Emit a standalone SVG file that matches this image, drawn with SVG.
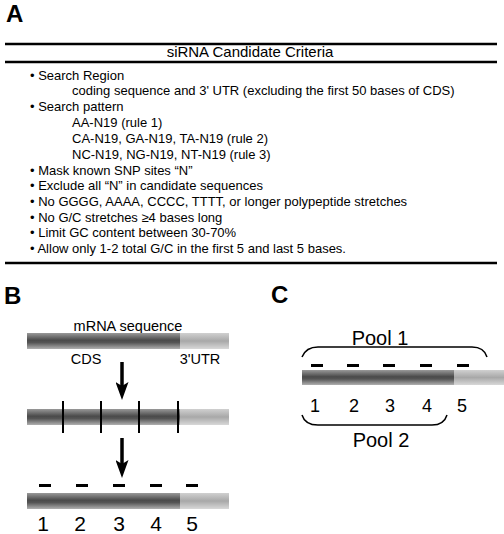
<svg xmlns="http://www.w3.org/2000/svg" width="504" height="534" viewBox="0 0 504 534">
<style>
text{font-family:"Liberation Sans",Arial,sans-serif;fill:#000}
.lbl{font-weight:bold;font-size:24px}
.t{font-size:13px}
.num{font-size:21px;text-anchor:middle}
.numc{font-size:18px;text-anchor:middle}
.rule{stroke:#000;stroke-width:2.5}
.tick{stroke:#000;stroke-width:2}
.dash{fill:#000}
.br{fill:none;stroke:#000;stroke-width:1.5}
.arr{stroke:#000;stroke-width:3.5;fill:none}
</style>
<defs>
<linearGradient id="cds" x1="0" y1="0" x2="0" y2="1">
<stop offset="0" stop-color="#999"/>
<stop offset="0.45" stop-color="#4a4a4a"/>
<stop offset="0.6" stop-color="#555"/>
<stop offset="1" stop-color="#b0b0b0"/>
</linearGradient>
<linearGradient id="utr" x1="0" y1="0" x2="0" y2="1">
<stop offset="0" stop-color="#d0d0d0"/>
<stop offset="0.5" stop-color="#a8a8a8"/>
<stop offset="1" stop-color="#d8d8d8"/>
</linearGradient>
<marker id="ah" viewBox="0 0 18 13" refX="6" refY="6.5" markerWidth="18" markerHeight="13" markerUnits="userSpaceOnUse" orient="auto">
<path d="M0 0 L18 6.5 L0 13 L4 6.5 Z" fill="#000"/>
</marker>
</defs>

<g id="panelA">
<text class="lbl" x="6" y="22">A</text>
<line class="rule" x1="5" y1="44" x2="497" y2="44"/>
<text x="250" y="57" font-size="15" text-anchor="middle">siRNA Candidate Criteria</text>
<line class="rule" x1="5" y1="62" x2="497" y2="62"/>
<g class="t">
<text x="30" y="80">• Search Region</text>
<text x="72" y="95">coding sequence and 3' UTR (excluding the first 50 bases of CDS)</text>
<text x="30" y="111">• Search pattern</text>
<text x="72" y="127">AA-N19 (rule 1)</text>
<text x="72" y="143">CA-N19, GA-N19, TA-N19 (rule 2)</text>
<text x="72" y="159">NC-N19, NG-N19, NT-N19 (rule 3)</text>
<text x="30" y="175">• Mask known SNP sites “N”</text>
<text x="30" y="190">• Exclude all “N” in candidate sequences</text>
<text x="30" y="206">• No GGGG, AAAA, CCCC, TTTT, or longer polypeptide stretches</text>
<text x="30" y="222">• No G/C stretches ≥4 bases long</text>
<text x="30" y="237">• Limit GC content between 30-70%</text>
<text x="30" y="253">• Allow only 1-2 total G/C in the first 5 and last 5 bases.</text>
</g>
<line class="rule" x1="5" y1="263" x2="497" y2="263"/>
</g>

<g id="panelB">
<text class="lbl" x="4" y="304">B</text>
<g id="mrna1">
<text x="128" y="331" font-size="14.5" text-anchor="middle">mRNA sequence</text>
<rect x="27" y="333" width="153" height="16" fill="url(#cds)"/>
<rect x="180" y="333" width="49" height="16" fill="url(#utr)"/>
<text x="86" y="364" font-size="14.5" text-anchor="middle">CDS</text>
<text x="200" y="364" font-size="14.5" text-anchor="middle">3'UTR</text>
</g>
<g id="mrna2">
<rect x="27" y="409" width="153" height="16" fill="url(#cds)"/>
<rect x="180" y="409" width="49" height="16" fill="url(#utr)"/>
<line class="tick" x1="63" y1="401" x2="63" y2="433"/>
<line class="tick" x1="101" y1="401" x2="101" y2="433"/>
<line class="tick" x1="139" y1="401" x2="139" y2="433"/>
<line class="tick" x1="178" y1="401" x2="178" y2="433"/>
</g>
<g id="mrna3">
<rect class="dash" x="39" y="484" width="12" height="3"/>
<rect class="dash" x="76" y="484" width="12" height="3"/>
<rect class="dash" x="113" y="484" width="12" height="3"/>
<rect class="dash" x="150" y="484" width="12" height="3"/>
<rect class="dash" x="186" y="484" width="12" height="3"/>
<rect x="27" y="493" width="153" height="16" fill="url(#cds)"/>
<rect x="180" y="493" width="49" height="16" fill="url(#utr)"/>
<text class="num" x="43" y="531">1</text>
<text class="num" x="80" y="531">2</text>
<text class="num" x="119" y="531">3</text>
<text class="num" x="156" y="531">4</text>
<text class="num" x="192" y="531">5</text>
</g>
</g>

<g id="connectors">
<line class="arr" x1="122" y1="362" x2="122" y2="388" marker-end="url(#ah)"/>
<line class="arr" x1="122" y1="438" x2="122" y2="466" marker-end="url(#ah)"/>
</g>

<g id="panelC">
<text class="lbl" x="271" y="303">C</text>
<text x="380" y="345" font-size="20" text-anchor="middle">Pool 1</text>
<path class="br" d="M302 357 Q306 347 318 347 L472 347 Q484 347 487 357"/>
<rect class="dash" x="311" y="364" width="12" height="3"/>
<rect class="dash" x="347" y="364" width="12" height="3"/>
<rect class="dash" x="383" y="364" width="12" height="3"/>
<rect class="dash" x="420" y="364" width="12" height="3"/>
<rect class="dash" x="457" y="364" width="12" height="3"/>
<rect x="302" y="370" width="152" height="15" fill="url(#cds)"/>
<rect x="454" y="370" width="50" height="15" fill="url(#utr)"/>
<text class="numc" x="315" y="412">1</text>
<text class="numc" x="354" y="412">2</text>
<text class="numc" x="390" y="412">3</text>
<text class="numc" x="427" y="412">4</text>
<text class="numc" x="462" y="412">5</text>
<path class="br" d="M302 415 Q305 425 318 425 L432 425 Q444 425 447 415"/>
<text x="381" y="447" font-size="20" text-anchor="middle">Pool 2</text>
</g>
</svg>
